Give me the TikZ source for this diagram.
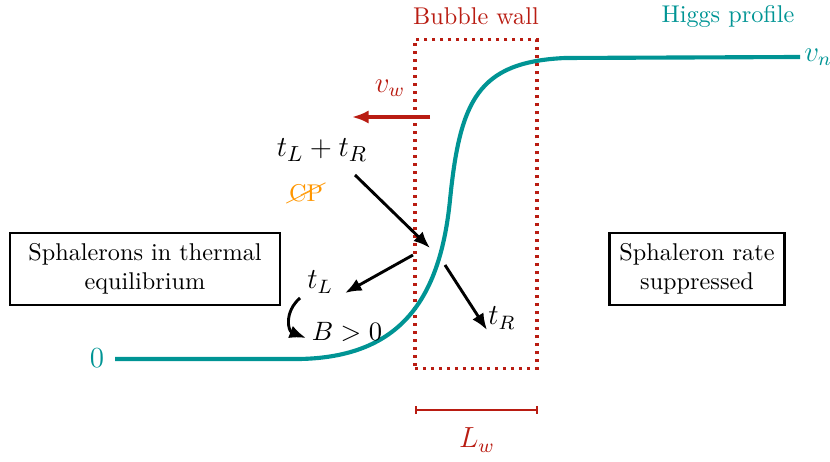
\documentclass[tikz,border=0pt]{standalone}
\usepackage{amsmath}
\usepackage{cancel}
\usepackage{tikz}
\usetikzlibrary{arrows.meta,positioning}
\definecolor{wallred}{RGB}{185,28,18}
\definecolor{higgsteal}{RGB}{0,148,148}
\definecolor{cporange}{RGB}{255,150,0}

\begin{document}
\begin{tikzpicture}[
    x=0.145mm, y=-0.145mm,
    >={Latex[length=2.4mm,width=1.9mm]},
    every node/.style={font=\normalsize},
    regime/.style={draw, rectangle, line width=1pt, minimum height=10.4mm, align=center, inner sep=2pt},
    wallbox/.style={draw=wallred, dotted, line width=1.3pt, rectangle, minimum width=17.7mm, minimum height=47.6mm, inner sep=0pt},
    higgs/.style={draw=higgsteal, line width=1.7pt},
    flow/.style={->, line width=1.2pt},
    lbl/.style={font=\large, inner sep=1pt}
]
\useasboundingbox (0,0) rectangle (830,462);

% --- Regions on both sides of the wall ---
\node[regime, minimum width=39.2mm] (equil) at (145,269) {Sphalerons in thermal\\equilibrium};
\node[regime, minimum width=25.4mm] (suppr) at (697,269) {Sphaleron rate\\suppressed};

% --- Bubble wall ---
\node[wallbox] (wall) at (476,204) {};
\node[text=wallred] (walltitle) at (476,16) {Bubble wall};

% --- Higgs profile ---
\node[lbl, text=higgsteal] (zero) at (97,358) {$0$};
\node[lbl, text=higgsteal] (vn) at (818,57) {$v_n$};
\node[text=higgsteal] (higgstitle) at (728,16) {Higgs profile};
\draw[higgs] (115,359) -- (300,359) .. controls (400,357) and (440,300) .. (450,200)
    .. controls (460,100) and (478,62) .. (565,58) -- (800,57);

% --- Wall velocity ---
\coordinate (vwtail) at (430,117);
\coordinate (vwhead) at (352,117);
\draw[->, wallred, line width=1.3pt] (vwtail) -- (vwhead);
\node[lbl, text=wallred] (vw) at (390,88) {$v_w$};

% --- Scattering of quarks on the wall ---
\node[lbl, font=\fontsize{13}{15}\selectfont] (tLR) at (322,150) {$t_L+t_R$};
\node[text=cporange, inner sep=1pt] (cp) at (306,193) {\cancel{CP}};
\node[lbl] (tL) at (320,282) {$t_L$};
\node[lbl] (tR) at (502,318) {$t_R$};
\node[lbl, font=\fontsize{11}{13}\selectfont] (bplus) at (347,332) {$B>0$};

\coordinate (inA) at (355,175);
\coordinate (inB) at (430,248);
\coordinate (reflA) at (413,255);
\coordinate (reflB) at (345,293);
\coordinate (transA) at (445,265);
\coordinate (transB) at (487,330);
\coordinate (sphA) at (300,298);
\coordinate (sphB) at (306,338);

\draw[flow] (inA) -- (inB);
\draw[flow] (reflA) -- (reflB);
\draw[flow] (transA) -- (transB);
\draw[flow] (sphA) .. controls (284,312) and (288,331) .. (sphB);

% --- Wall width ---
\coordinate (lwA) at (415,410);
\coordinate (lwB) at (538,410);
\draw[{Bar[width=1.2mm]}-{Bar[width=1.2mm]}, wallred, line width=0.7pt] (lwA) -- (lwB);
\node[lbl, text=wallred] (lw) at (477,440) {$L_w$};
\end{tikzpicture}
\end{document}
